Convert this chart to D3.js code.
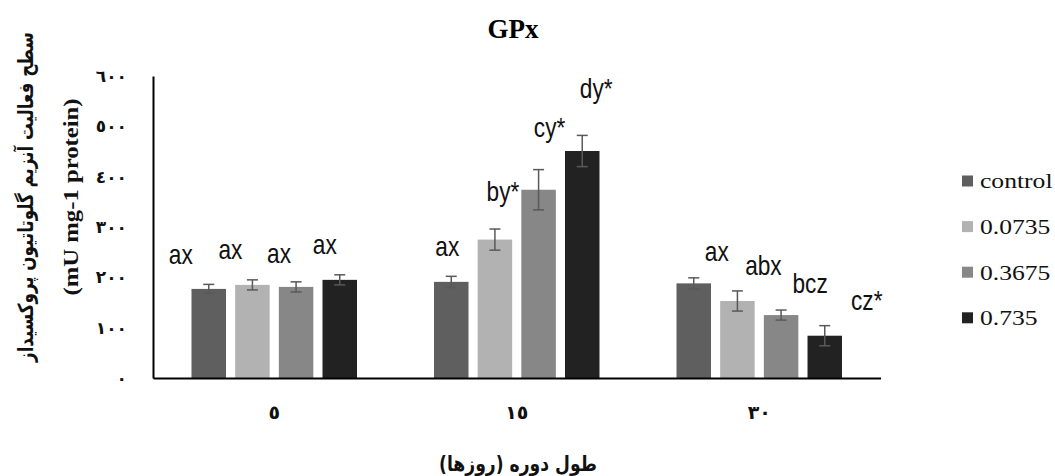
<!DOCTYPE html>
<html>
<head>
<meta charset="utf-8">
<script src="https://cdn.jsdelivr.net/npm/d3@7/dist/d3.min.js"></script>
<style>
  body { margin: 0; background: #fff; }
  svg { display: block; }
</style>
</head>
<body>
<script>
// sampling days and their Persian labels
var days = ["5", "15", "30"];
var dayLabels = ["٥", "١٥", "٣٠"];
var doses = ["control", "0.0735", "0.3675", "0.735"];

// GPx activity, one array per dose, one value per day
var control = [177, 191, 188];
var dose0735 = [185, 275, 153];
var dose3675 = [181, 374, 125];
var dose735 = [195, 451, 84];

var controlErr = [9, 11, 11];
var dose0735Err = [10, 21, 20];
var dose3675Err = [10, 40, 10];
var dose735Err = [10, 31, 20];

// significance letters
var controlLetters = ["ax", "ax", "ax"];
var dose0735Letters = ["ax", "by*", "abx"];
var dose3675Letters = ["ax", "cy*", "bcz"];
var dose735Letters = ["ax", "dy*", "cz*"];

var yTicks = [0, 100, 200, 300, 400, 500, 600];
var yTickLabels = ["٠", "١٠٠", "٢٠٠", "٣٠٠", "٤٠٠", "٥٠٠", "٦٠٠"];

var series = [control, dose0735, dose3675, dose735];
var errors = [controlErr, dose0735Err, dose3675Err, dose735Err];
var letters = [controlLetters, dose0735Letters, dose3675Letters, dose735Letters];
var colors = ["#5f5f5f", "#b2b2b2", "#878787", "#222222"];

// hand placed letter offsets (px) as in the original, [dx, dy above error cap]
var nudges = [
  [[-28, -20], [-4, -20], [23, -17]],
  [[-22, -21], [8, -28], [26, -16]],
  [[-17, -19], [11, -33], [29, -17]],
  [[-15, -21], [14, -37], [42, -16]]
];

var width = 1055,
    height = 476;

var svg = d3.select("body").append("svg")
    .attr("width", width)
    .attr("height", height);

var x0 = d3.scaleBand()
    .domain(days)
    .range([153, 880.5])
    .padding(0);

var x1 = d3.scaleBand()
    .domain(doses)
    .range([38.5, 204])
    .paddingInner(0.21)
    .paddingOuter(0);

var y = d3.scaleLinear()
    .domain([0, 600])
    .range([378, 76]);

var rows = days.map(function(day, i) {
  return {
    day: day,
    bars: doses.map(function(dose, j) {
      return {
        dose: dose,
        value: series[j][i],
        err: errors[j][i],
        letter: letters[j][i],
        nudge: nudges[j][i],
        color: colors[j]
      };
    })
  };
});

var groups = svg.selectAll("g.day")
    .data(rows)
  .enter().append("g")
    .attr("class", "day")
    .attr("transform", function(d) { return "translate(" + x0(d.day) + ",0)"; });

groups.selectAll("rect")
    .data(function(d) { return d.bars; })
  .enter().append("rect")
    .attr("x", function(d) { return x1(d.dose); })
    .attr("y", function(d) { return y(d.value); })
    .attr("width", x1.bandwidth())
    .attr("height", function(d) { return y(0) - y(d.value); })
    .attr("fill", function(d) { return d.color; });

// error bars
var eb = groups.selectAll("g.err")
    .data(function(d) { return d.bars; })
  .enter().append("g")
    .attr("class", "err")
    .attr("stroke", "#595959")
    .attr("stroke-width", 1.5)
    .attr("transform", function(d) { return "translate(" + (x1(d.dose) + x1.bandwidth() / 2) + ",0)"; });

eb.append("line")
    .attr("y1", function(d) { return y(d.value - d.err); })
    .attr("y2", function(d) { return y(d.value + d.err); });
eb.append("line")
    .attr("x1", -5.5).attr("x2", 5.5)
    .attr("y1", function(d) { return y(d.value + d.err); })
    .attr("y2", function(d) { return y(d.value + d.err); });
eb.append("line")
    .attr("x1", -5.5).attr("x2", 5.5)
    .attr("y1", function(d) { return y(d.value - d.err); })
    .attr("y2", function(d) { return y(d.value - d.err); });

groups.selectAll("text.letter")
    .data(function(d) { return d.bars; })
  .enter().append("text")
    .attr("class", "letter")
    .attr("text-anchor", "middle")
    .attr("transform", function(d) {
      var cx = x1(d.dose) + x1.bandwidth() / 2 + d.nudge[0];
      var cy = y(d.value + d.err) + d.nudge[1];
      return "translate(" + cx + "," + cy + ") scale(0.84,1)";
    })
    .style("font-family", "'Liberation Sans', Arial, sans-serif")
    .style("font-size", "27px")
    .attr("fill", "#111")
    .text(function(d) { return d.letter; });

// axes
var yAxis = svg.append("g")
    .attr("transform", "translate(153,0)")
    .call(d3.axisLeft(y)
      .tickValues(yTicks)
      .tickFormat(function(d, i) { return yTickLabels[i]; })
      .tickSize(0)
      .tickSizeOuter(0)
      .tickPadding(26));

var xAxis = svg.append("g")
    .attr("transform", "translate(0,378)")
    .call(d3.axisBottom(x0)
      .tickFormat(function(d, i) { return dayLabels[i]; })
      .tickSize(0)
      .tickSizeOuter(0)
      .tickPadding(28));

svg.selectAll(".domain")
    .attr("stroke", "#000")
    .attr("stroke-width", 2);

yAxis.selectAll("text")
    .style("font-family", "'DejaVu Sans', sans-serif")
    .style("font-weight", "bold")
    .style("font-size", "17px")
    .attr("fill", "#111");

xAxis.selectAll("text")
    .style("font-family", "'DejaVu Sans', sans-serif")
    .style("font-weight", "bold")
    .style("font-size", "19px")
    .attr("fill", "#111");

// titles
svg.append("text")
    .attr("x", 513)
    .attr("y", 38)
    .attr("text-anchor", "middle")
    .style("font-family", "'Liberation Serif', 'Times New Roman', serif")
    .style("font-weight", "bold")
    .style("font-size", "27px")
    .text("GPx");

function fitted(txt, font, size, weight, len, cx, cy, rot, dir) {
  var t = svg.append("text")
      .attr("text-anchor", "middle")
      .attr("direction", dir)
      .attr("dy", "0.35em")
      .style("font-family", font)
      .style("font-weight", weight)
      .style("font-size", size + "px")
      .attr("fill", "#111")
      .text(txt);
  var s = len / t.node().getComputedTextLength();
  t.attr("transform", "translate(" + cx + "," + cy + ") rotate(" + rot + ") scale(" + s + ",1)");
  return t;
}

fitted("سطح فعالیت آنزیم گلوتاتیون پروکسیداز", "'DejaVu Sans', sans-serif", 21, "bold", 330, 26, 197, -90, "rtl");
fitted("(mU mg-1 protein)", "'Liberation Serif', 'Times New Roman', serif", 21, "bold", 197, 71, 197, -90, "ltr");
fitted("طول دوره (روزها)", "'DejaVu Sans', sans-serif", 21, "bold", 158, 518, 464, 0, "rtl");

// legend
var legend = svg.selectAll("g.legend")
    .data(doses)
  .enter().append("g")
    .attr("class", "legend")
    .attr("transform", function(d, i) { return "translate(962," + (181 + i * 45.6) + ")"; });

legend.append("rect")
    .attr("x", 0)
    .attr("y", -5.5)
    .attr("width", 11)
    .attr("height", 11)
    .attr("fill", function(d, i) { return colors[i]; });

legend.append("text")
    .attr("transform", "translate(18,0) scale(1.22,1)")
    .attr("dy", "0.35em")
    .style("font-family", "'Liberation Serif', 'Times New Roman', serif")
    .style("font-size", "21px")
    .attr("fill", "#111")
    .text(function(d) { return d; });
</script>
</body>
</html>
